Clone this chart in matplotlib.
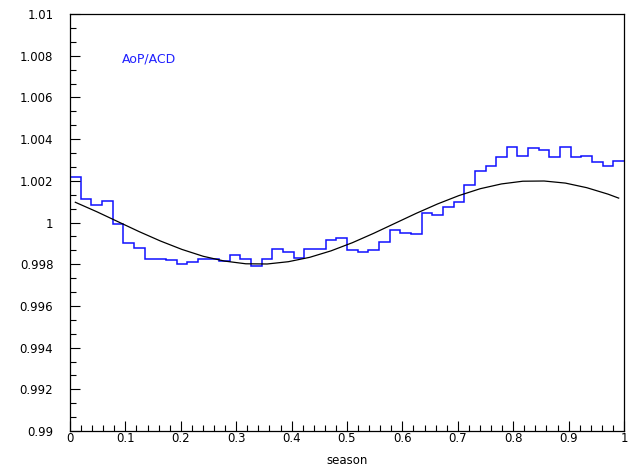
"""
Histograma sazonal AoP/ACD com ajuste senoidal
"""
import numpy as np
import matplotlib
matplotlib.use('Agg')
import matplotlib.pyplot as plt
from matplotlib.ticker import MultipleLocator, FixedLocator

# Dados: 52 bins (semanas) em 'season'
n_bins = 52
razao = [1.00216, 1.00113, 1.00086, 1.00101, 0.99995, 0.99902, 0.99880, 0.99823, 0.99823, 0.99819,
         0.99803, 0.99811, 0.99823, 0.99824, 0.99815, 0.99843, 0.99823, 0.99792, 0.99826, 0.99872,
         0.99859, 0.99832, 0.99872, 0.99872, 0.99918, 0.99926, 0.99867, 0.99859, 0.99867, 0.99907,
         0.99962, 0.99952, 0.99947, 1.00046, 1.00035, 1.00072, 1.00099, 1.00179, 1.00246, 1.00271,
         1.00312, 1.00360, 1.00319, 1.00355, 1.00350, 1.00312, 1.00360, 1.00312, 1.00321, 1.00288,
         1.00271, 1.00295]

idx_ajuste = [0, 2, 4, 6, 8, 10, 12, 14, 16, 18, 20, 22, 24, 26, 28, 30, 32, 34, 36, 38,
              40, 42, 44, 46, 48, 50, 51]
ajuste = [1.00097, 1.00052, 1.00004, 0.99956, 0.99911, 0.99871, 0.99838, 0.99815, 0.99802,
          0.99801, 0.99812, 0.99833, 0.99864, 0.99903, 0.99948, 0.99996, 1.00044, 1.00089,
          1.00129, 1.00162, 1.00185, 1.00198, 1.00199, 1.00189, 1.00167, 1.00136, 1.00117]

y_ticks = [0.99, 0.992, 0.994, 0.996, 0.998, 1.0, 1.002, 1.004, 1.006, 1.008, 1.01]
y_labels = ['0.99', '0.992', '0.994', '0.996', '0.998', '1', '1.002', '1.004', '1.006', '1.008', '1.01']
x_ticks = [0, 0.1, 0.2, 0.3, 0.4, 0.5, 0.6, 0.7, 0.8, 0.9, 1]
x_labels = ['0', '0.1', '0.2', '0.3', '0.4', '0.5', '0.6', '0.7', '0.8', '0.9', '1']

bordas = np.linspace(0, 1, n_bins + 1)
centros = 0.5 * (bordas[:-1] + bordas[1:])

fig = plt.figure(figsize=(6.31, 4.70), dpi=100)
ax = fig.add_axes([70 / 631, 1 - 431 / 470, 554 / 631, 417 / 470])

ax.stairs(razao, bordas, baseline=None, color='#1010ff', linewidth=1.1)
ax.plot(centros[idx_ajuste], ajuste, color='black', linewidth=0.9)

ax.set_xlim(0, 1)
ax.set_ylim(0.99, 1.01)

# eixos no estilo PAW: ticks para dentro, só à esquerda e embaixo
ax.xaxis.set_major_locator(FixedLocator(x_ticks))
ax.set_xticklabels(x_labels)
ax.xaxis.set_minor_locator(MultipleLocator(0.02))
ax.yaxis.set_major_locator(FixedLocator(y_ticks))
ax.set_yticklabels(y_labels)
ax.yaxis.set_minor_locator(MultipleLocator(0.002 / 3))
ax.tick_params(which='both', direction='in', top=False, right=False, labelsize=8.5, width=0.8)
ax.tick_params(which='major', length=7)
ax.tick_params(which='minor', length=4)
ax.tick_params(axis='y', which='major', pad=12)
ax.tick_params(axis='x', which='major', pad=1)
for s in ax.spines.values():
    s.set_linewidth(0.9)

# rótulo do eixo x colocado à mão, bem junto da borda de baixo
fig.text(347 / 631, 1 - 460 / 470, 'season', fontsize=8.5, ha='center', va='center')
ax.text(0.094, 0.893, 'AoP/ACD', transform=ax.transAxes, color='#2020ff', fontsize=9, va='center')

plt.savefig('out.png', dpi=100)
